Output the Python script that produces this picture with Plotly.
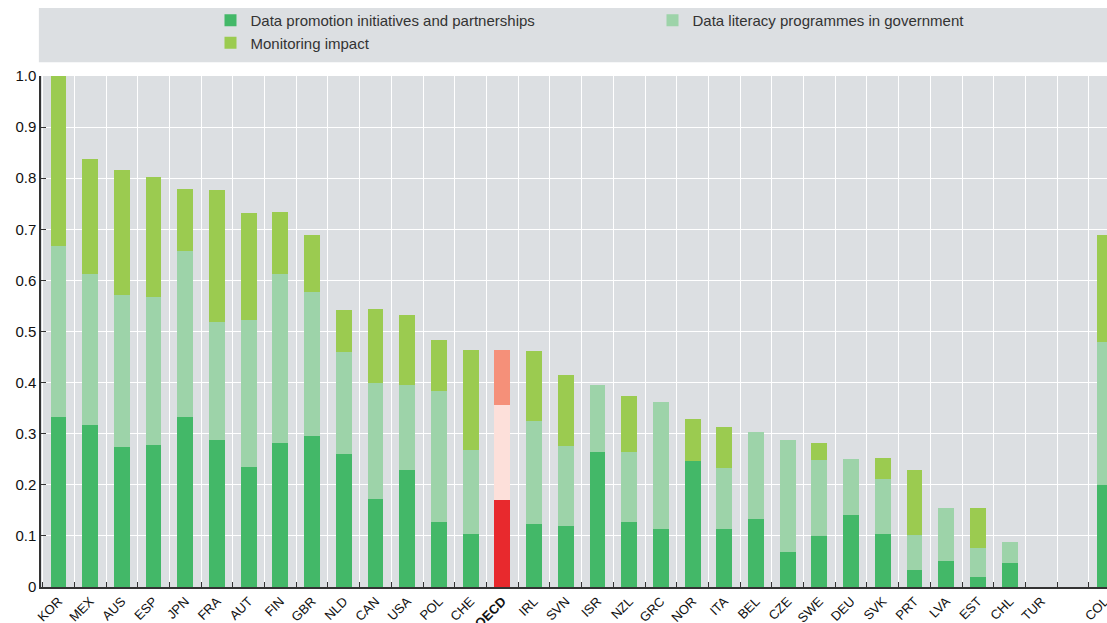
import plotly.graph_objects as go

countries = ["KOR","MEX","AUS","ESP","JPN","FRA","AUT","FIN","GBR","NLD","CAN","USA","POL","CHE","OECD",
             "IRL","SVN","ISR","NZL","GRC","NOR","ITA","BEL","CZE","SWE","DEU","SVK","PRT","LVA","EST",
             "CHL","TUR","COL"]

promotion = [0.333,0.317,0.274,0.278,0.333,0.288,0.234,0.281,0.296,0.260,0.173,0.229,0.127,0.104,0.170,
             0.123,0.119,0.265,0.127,0.114,0.246,0.114,0.134,0.069,0.100,0.140,0.104,0.033,0.050,0.020,
             0.046,0.0,0.199]
literacy = [0.334,0.296,0.298,0.290,0.324,0.230,0.288,0.332,0.281,0.199,0.226,0.166,0.256,0.165,0.187,
            0.201,0.156,0.130,0.138,0.248,0.0,0.118,0.169,0.219,0.149,0.111,0.107,0.068,0.104,0.057,
            0.043,0.0,0.281]
monitoring = [0.333,0.225,0.245,0.234,0.122,0.258,0.209,0.121,0.111,0.083,0.145,0.137,0.100,0.195,0.107,
              0.137,0.139,0.0,0.109,0.0,0.083,0.081,0.0,0.0,0.033,0.0,0.042,0.127,0.0,0.078,
              0.0,0.0,0.209]

series_names = ["Data promotion initiatives and partnerships", "Data literacy programmes in government",
                "Monitoring impact"]
green_colors = ["#43b868", "#9dd3a9", "#9bcb50"]
oecd_colors = ["#e8292d", "#fde0da", "#f59079"]

# positions: a one-slot gap before the last country (COL)
xpos = [i if c != "COL" else i + 1 for i, c in enumerate(countries)]

FONT = "Liberation Sans Narrow, Liberation Sans, Arial, sans-serif"

fig = go.Figure()
for vals, name, gc, oc in zip([promotion, literacy, monitoring], series_names, green_colors, oecd_colors):
    cols = [oc if c == "OECD" else gc for c in countries]
    fig.add_trace(go.Bar(x=xpos, y=vals, name=name, marker=dict(color=cols, line=dict(width=0)),
                         width=0.5))

ticktext = ["<b>OECD</b>" if c == "OECD" else c for c in countries]

fig.update_layout(
    barmode="stack",
    width=1107, height=623,
    margin=dict(l=41, r=0, t=76, b=36, autoexpand=False),
    paper_bgcolor="white",
    plot_bgcolor="#dcdfe2",
    font=dict(family=FONT, size=14, color="#222"),
    showlegend=True,
    legend=dict(orientation="h", x=0.159, y=1.141, xanchor="left", yanchor="top",
                entrywidth=397, entrywidthmode="pixels", bgcolor="rgba(0,0,0,0)",
                font=dict(family=FONT, size=15, color="#333"), traceorder="normal",
                itemclick=False),
    bargap=0.5,
)
fig.add_shape(type="rect", xref="paper", yref="paper", x0=-0.002, x1=1.0, y0=1.027, y1=1.133,
              fillcolor="#dcdfe2", line=dict(width=0), layer="below")

fig.update_xaxes(
    range=[-0.55, 33.07],
    tickmode="array", tickvals=xpos, ticktext=ticktext, tickangle=-45,
    ticks="", showgrid=False, zeroline=False,
    showline=True, linecolor="#333", linewidth=1.5,
    tickfont=dict(family=FONT, size=13, color="#111"),
    ticklabeloverflow="allow",
    automargin=False,
    minor=dict(tickmode="linear", tick0=0.5, dtick=1, showgrid=True, gridcolor="white", gridwidth=1.2,
               ticks="inside", ticklen=5, tickcolor="#333", tickwidth=1.2),
)
fig.update_yaxes(
    range=[0, 1.0],
    tickmode="array", tickvals=[0,0.1,0.2,0.3,0.4,0.5,0.6,0.7,0.8,0.9,1.0],
    ticktext=["0","0.1","0.2","0.3","0.4","0.5","0.6","0.7","0.8","0.9","1.0"],
    showgrid=True, gridcolor="white", gridwidth=1.2, zeroline=False,
    showline=True, linecolor="#333", linewidth=1.5,
    ticks="inside", ticklen=5, tickcolor="#333",
    tickfont=dict(family=FONT, size=15, color="#111"),
    automargin=False,
)

fig.write_html("out.html",
               config={"displayModeBar": False},
               post_script="document.body.style.margin='0';document.body.style.overflow='hidden';"
                           "document.documentElement.style.overflow='hidden';")
